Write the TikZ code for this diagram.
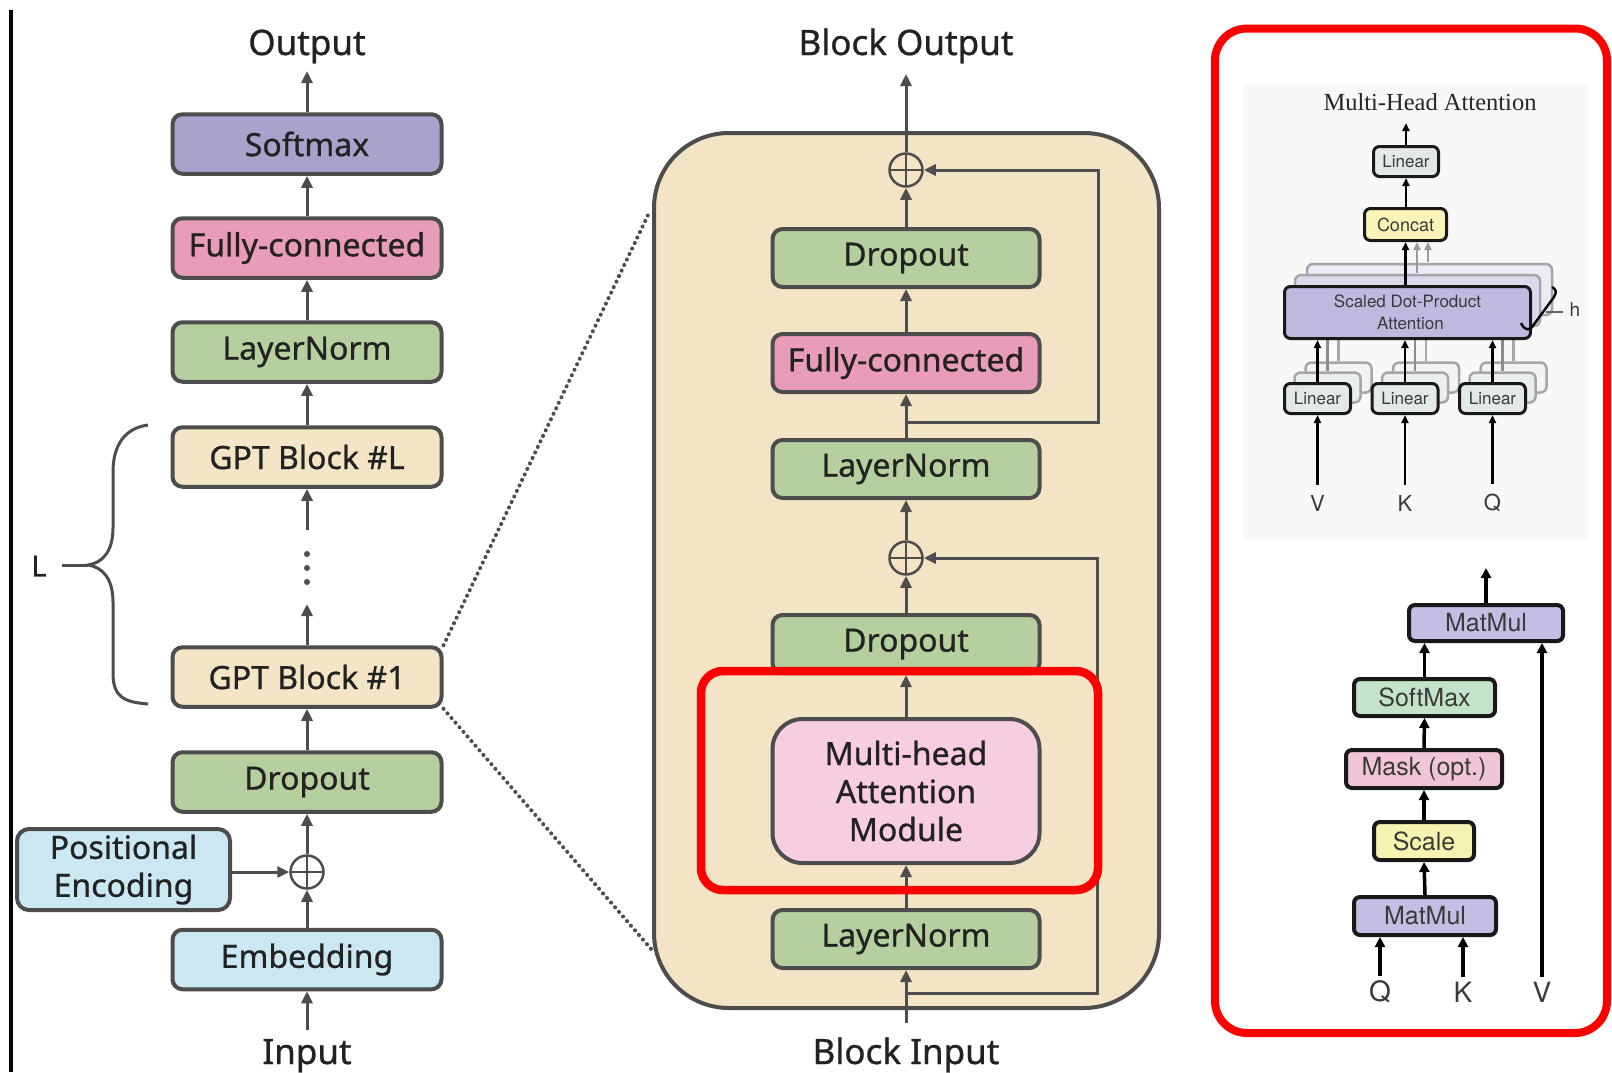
\documentclass[tikz,border=0pt]{standalone}
\usepackage{fontspec}
\setmainfont{Noto Sans}
\newfontfamily\medfont{Noto Sans}[FakeBold=0.8]
\newfontfamily\helv{TeX Gyre Heros}
\newfontfamily\tms{Liberation Serif}
\usetikzlibrary{arrows.meta,calc}

\definecolor{edge}{HTML}{4D4D4D}
\definecolor{softc}{HTML}{A7A3CD}
\definecolor{fcc}{HTML}{E99BBA}
\definecolor{grn}{HTML}{B6CF9F}
\definecolor{gptc}{HTML}{F4E5C6}
\definecolor{embc}{HTML}{CBE8F2}
\definecolor{blockbg}{HTML}{F2E4C4}
\definecolor{mhac}{HTML}{F8CDE2}
\definecolor{redf}{HTML}{FF0000}
\definecolor{lingray}{HTML}{E3E9E7}
\definecolor{concatc}{HTML}{FAF4B9}
\definecolor{sdpac}{HTML}{C1B8DF}
\definecolor{panelbg}{HTML}{F8F8F8}
\definecolor{mmc}{HTML}{C5BDE3}
\definecolor{smc}{HTML}{C4E3CB}
\definecolor{maskc}{HTML}{F1C4D8}
\definecolor{scalec}{HTML}{F6F2B0}
\definecolor{txt}{HTML}{222222}
\definecolor{ptxt}{HTML}{3A3A3A}

\begin{document}
\begin{tikzpicture}[x=1pt,y=-1pt,
  blk/.style={draw=edge, line width=4pt, rounded corners=10pt,
    minimum width=269pt, minimum height=59.5pt, inner sep=0pt,
    font=\medfont\fontsize{32}{38}\selectfont, text=txt, align=center},
  mblk/.style={blk, minimum width=267pt, minimum height=58pt},
  arr/.style={draw=edge, line width=3pt, -{Triangle[length=12pt,width=11pt]}},
  lbl/.style={font=\medfont\fontsize{35}{40}\selectfont, text=txt, inner sep=0pt, anchor=base},
  oplus/.style={circle, draw=edge, line width=2.5pt, minimum size=33pt, inner sep=0pt,
    path picture={\draw[edge,line width=2.5pt]
      (path picture bounding box.north) -- (path picture bounding box.south)
      (path picture bounding box.west) -- (path picture bounding box.east);}},
  pbox/.style={draw=black!90, line width=3pt, rounded corners=6pt, inner sep=0pt,
    font=\helv\fontsize{17}{22}\selectfont, text=ptxt, align=center},
  ghost/.style={draw=black!35, line width=2.5pt, rounded corners=6pt, inner sep=0pt},
  sbox/.style={draw=black!90, line width=4pt, rounded corners=6pt, inner sep=0pt,
    minimum height=37pt, font=\helv\fontsize{25}{30}\selectfont, text=ptxt},
  parr/.style={draw=black, line width=2.4pt, -{Triangle[length=8pt,width=7pt]}},
  garr/.style={draw=black!40, line width=2.4pt, -{Triangle[length=8pt,width=7pt]}},
  sarr/.style={draw=black, line width=3.5pt, -{Triangle[length=10pt,width=10pt]}},
  plbl/.style={font=\helv\fontsize{22}{26}\selectfont, text=ptxt, inner sep=0pt},
  slbl/.style={font=\helv\fontsize{28}{32}\selectfont, text=ptxt, inner sep=0pt},
  dotline/.style={draw=edge, line width=4pt, line cap=round, dash pattern=on 0.1pt off 6pt}
]
\fill[white] (0,0) rectangle (1612,1072);
\useasboundingbox (0,0) rectangle (1612,1072);

% separator on the far left
\draw[line width=4pt, black] (10.5,10) -- (10.5,1072);

% ---------------- GPT stack ----------------
\node[lbl] (outlbl) at (307,55) {Output};
\coordinate (outtip) at (307,71);
\node[blk, fill=softc] (soft) at (307,144) {Softmax};
\node[blk, fill=fcc] (fc) at (307,248) {Fully-connected};
\node[blk, fill=grn] (ln) at (307,352) {LayerNorm};
\node[blk, fill=gptc] (gptL) at (307,457) {GPT Block \#L};
\node[blk, fill=gptc] (gpt1) at (307,677) {GPT Block \#1};
\node[blk, fill=grn] (drop) at (307,782) {Dropout};
\node[oplus] (addpe) at (307,872) {};
\node[blk, fill=embc, minimum width=213pt, minimum height=81pt, rounded corners=12pt] (pe) at (123.5,869.5) {Positional\\Encoding};
\node[blk, fill=embc] (emb) at (307,959.5) {Embedding};
\node[lbl] (inlbl) at (307,1064) {Input};
\coordinate (intip) at (307,1030);
\coordinate (dotstop) at (307,530);
\coordinate (dotsbot) at (307,604);

\draw[arr] (soft.north) -- (outtip);
\draw[arr] (fc.north) -- (soft.south);
\draw[arr] (ln.north) -- (fc.south);
\draw[arr] (gptL.north) -- (ln.south);
\draw[arr] (dotstop) -- (gptL.south);
\draw[arr] (gpt1.north) -- (dotsbot);
\foreach \yy in {554,568,582} \fill[edge] (307,\yy) circle (3pt);
\draw[arr] (drop.north) -- (gpt1.south);
\draw[arr] (addpe.north) -- (drop.south);
\draw[arr] (emb.north) -- (addpe.south);
\draw[arr] (pe.east |- addpe.west) -- (addpe.west);
\draw[arr] (intip) -- (emb.south);

% brace over the repeated blocks
\draw[edge, line width=3pt]
  (148,425) .. controls (125,428) and (113,445) .. (113,472) -- (113,528)
  .. controls (113,552) and (102,563) .. (88,565)
  .. controls (102,567) and (113,578) .. (113,602) -- (113,673)
  .. controls (113,698) and (125,702) .. (148,704);
\draw[edge, line width=3pt] (62,565) -- (88,565);
\node[font=\medfont\fontsize{29}{34}\selectfont, text=txt, inner sep=0pt] (nL) at (39,566) {L};

% ---------------- GPT block detail ----------------
\node[draw=edge, line width=4pt, fill=blockbg, rounded corners=75pt,
  minimum width=505pt, minimum height=875pt] (blockbox) at (906.5,570.5) {};
\coordinate (zoomtop) at (649,213);
\coordinate (zoombot) at (652,950);
\draw[dotline] (gpt1.north east) -- (zoomtop);
\draw[dotline] (gpt1.south east) -- (zoombot);

\node[lbl] (boutlbl) at (906,55) {Block Output};
\coordinate (bouttip) at (906,74);
\node[oplus] (add1) at (906,170) {};
\node[mblk, fill=grn] (bdrop1) at (906,258) {Dropout};
\node[mblk, fill=fcc] (bfc) at (906,363) {Fully-connected};
\node[mblk, fill=grn] (bln1) at (906,469) {LayerNorm};
\node[oplus] (add2) at (906,558) {};
\node[mblk, fill=grn] (bdrop2) at (906,644) {Dropout};
\node[mblk, fill=mhac, minimum height=144pt, rounded corners=30pt] (mha) at (906,791) {Multi-head\\Attention\\Module};
\node[mblk, fill=grn] (bln2) at (906,939) {LayerNorm};
\node[lbl] (binlbl) at (906,1064) {Block Input};
\coordinate (bintip) at (906,1023);
\coordinate (skip1) at (906,422);
\coordinate (skip2) at (906,993);

\draw[arr] (add1.north) -- (bouttip);
\draw[arr] (bdrop1.north) -- (add1.south);
\draw[arr] (bfc.north) -- (bdrop1.south);
\draw[arr] (bln1.north) -- (bfc.south);
\draw[arr] (add2.north) -- (bln1.south);
\draw[arr] (bdrop2.north) -- (add2.south);
\draw[arr] (mha.north) -- (bdrop2.south);
\draw[arr] (bln2.north) -- (mha.south);
\draw[arr] (bintip) -- (bln2.south);
\draw[arr] (skip1) -- (1098,422) -- (1098,170) -- (add1.east);
\draw[arr] (skip2) -- (1097,993) -- (1097,558) -- (add2.east);

\draw[redf, line width=8.5pt, rounded corners=22pt] (701,671) rectangle (1098,890);

% ---------------- attention panel ----------------
\draw[redf, line width=8pt, rounded corners=32pt] (1215,28.5) rectangle (1607,1033);
\fill[panelbg] (1243,85) rectangle (1588,540);

\node[font=\tms\fontsize{24.5}{28}\selectfont, text=black!85, inner sep=0pt] (mhtitle) at (1430,102) {Multi-Head Attention};

% stacked heads behind the front copy
\node[ghost, fill=sdpac!30, minimum width=245pt, minimum height=51pt] (sdpaC) at (1429.5,289.5) {};
\node[ghost, fill=sdpac!55, minimum width=245pt, minimum height=51pt] (sdpaB) at (1417.5,300.5) {};
\foreach \cx/\nm in {1317.5/V,1405/K,1492.5/Q}{
  \node[ghost, fill=lingray!50, minimum width=66pt, minimum height=30pt] (lin\nm C) at (\cx+21,377.5) {};
  \node[ghost, fill=lingray!75, minimum width=66pt, minimum height=30pt] (lin\nm B) at (\cx+10,387.5) {};
  \draw[black!35, line width=2.4pt] (lin\nm C.north) -- ++(0,-22);
  \draw[black!45, line width=2.4pt] (lin\nm B.north) -- ++(0,-33);
}
\draw[garr] (1428,262) -- (1428,242);
\draw[garr] (1417,273) -- (1417,242);

\node[pbox, fill=sdpac, minimum width=246pt, minimum height=52pt] (sdpa) at (1407.5,312.5) {Scaled Dot-Product\\\hspace*{6pt}Attention};
\node[pbox, fill=concatc, minimum width=82pt, minimum height=32pt, font=\helv\fontsize{18}{22}\selectfont] (concat) at (1405.5,224.5) {Concat};
\node[pbox, fill=lingray, minimum width=65pt, minimum height=30pt] (linO) at (1406,161.5) {Linear};
\node[pbox, fill=lingray, minimum width=66pt, minimum height=30pt] (linV) at (1317.5,398.5) {Linear};
\node[pbox, fill=lingray, minimum width=66pt, minimum height=30pt] (linK) at (1405,398.5) {Linear};
\node[pbox, fill=lingray, minimum width=66pt, minimum height=30pt] (linQ) at (1492.5,398.5) {Linear};
\coordinate (mhtip) at (1406,123);

\draw[parr] (linO.north) -- (mhtip);
\draw[parr] (concat.north -| linO.south) -- (linO.south);
\draw[parr] (concat.south |- sdpa.north) -- (concat.south);
\foreach \nm in {V,K,Q}{
  \draw[parr] (lin\nm.north) -- (lin\nm.north |- sdpa.south);
}

% head-count bracket
\draw[black, line width=2.4pt]
  (1521,323) .. controls (1524,330) and (1529,331) .. (1532,327) -- (1554,297)
  .. controls (1557,292) and (1556,289) .. (1552,287);
\draw[black!60, line width=2pt] (1546,312) -- (1563,312);
\node[font=\helv\fontsize{19}{22}\selectfont, text=ptxt, inner sep=0pt] (hlbl) at (1575,310) {h};

\node[plbl] (vin) at (1317.5,503) {V};
\node[plbl] (kin) at (1405,503) {K};
\node[plbl] (qin) at (1492.5,503) {Q};
\draw[parr] ($(vin.north)+(0,-10)$) -- (linV.south);
\draw[parr] ($(kin.north)+(0,-10)$) -- (linK.south);
\draw[parr] ($(qin.north)+(0,-10)$) -- (linQ.south);

% ---------------- scaled dot-product detail ----------------
\node[sbox, fill=mmc, minimum width=154pt, minimum height=36pt] (mmTop) at (1486,623) {MatMul};
\node[sbox, fill=smc, minimum width=141pt] (smax) at (1424.5,697.5) {SoftMax};
\node[sbox, fill=maskc, minimum width=156pt, minimum height=38pt] (mask) at (1424,769) {Mask (opt.)};
\node[sbox, fill=scalec, minimum width=100pt, minimum height=38pt] (scale) at (1424,841) {Scale};
\node[sbox, fill=mmc, minimum width=142pt, minimum height=38pt] (mmBot) at (1425,916) {MatMul};
\coordinate (sdtip) at (1486,568);

\node[slbl] (qlbl) at (1380,992) {Q};
\node[slbl] (klbl) at (1463,992) {K};
\node[slbl] (vlbl) at (1542,992) {V};

\draw[sarr] (mmTop.north) -- (sdtip);
\draw[sarr] (smax.north) -- (smax.north |- mmTop.south);
\draw[sarr] (mask.north) -- (smax.south);
\draw[sarr] (scale.north) -- (mask.south);
\draw[sarr] (mmBot.north) -- (scale.south);
\draw[sarr] ($(qlbl.north)+(0,-5)$) -- (qlbl.north |- mmBot.south);
\draw[sarr] ($(klbl.north)+(0,-5)$) -- (klbl.north |- mmBot.south);
\draw[sarr] ($(vlbl.north)+(0,-5)$) -- (vlbl.north |- mmTop.south);
\end{tikzpicture}
\end{document}
